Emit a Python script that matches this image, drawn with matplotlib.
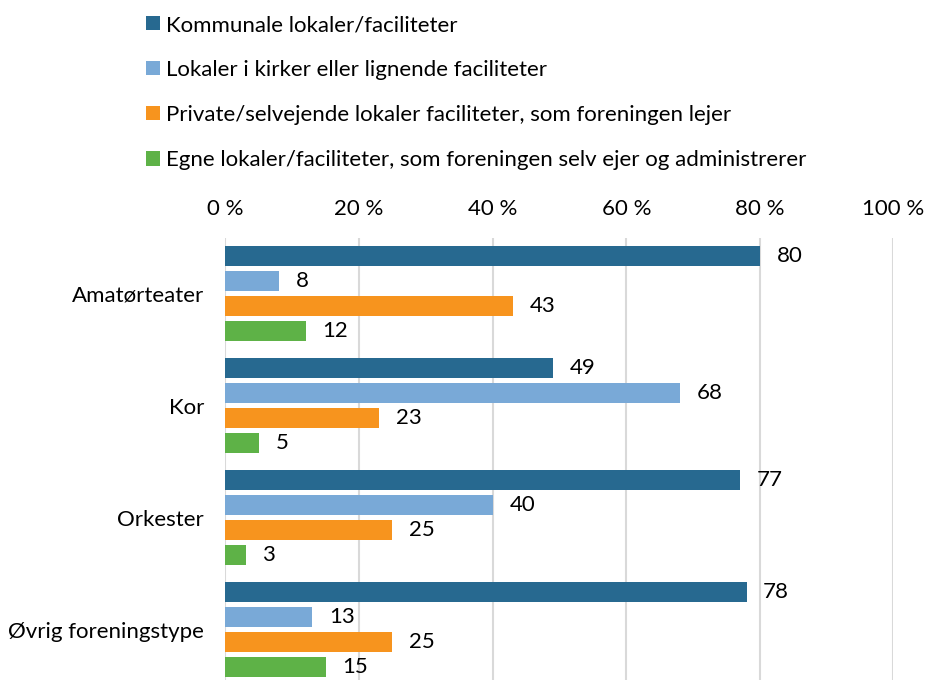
import numpy as np
import matplotlib
matplotlib.use("Agg")
from matplotlib import pyplot as plt
from matplotlib.patches import Patch

plt.rcParams['font.family'] = ['Lato', 'DejaVu Sans']

categories = ["Amatørteater", "Kor", "Orkester", "Øvrig foreningstype"]
series = [
    "Kommunale lokaler/faciliteter",
    "Lokaler i kirker eller lignende faciliteter",
    "Private/selvejende lokaler faciliteter, som foreningen lejer",
    "Egne lokaler/faciliteter, som foreningen selv ejer og administrerer",
]
kommunale = [80, 49, 77, 78]
kirker = [8, 68, 40, 13]
private = [43, 23, 25, 25]
egne = [12, 5, 3, 15]
colors = ["#276990", "#79A9D7", "#F7941E", "#5EB247"]

values = [kommunale, kirker, private, egne]
fs = 16

fig = plt.figure(figsize=(9.26, 6.8), dpi=100)
ax = fig.add_axes([0.2435, -0.0088, 0.7214, 0.6588])

# each category takes one unit; bars are 20/112 tall with a 25/112 pitch
band = 112.0
bar_h = 20 / band
base = np.arange(len(categories))
for j, (vals, col) in enumerate(zip(values, colors)):
    ys = base + (8 + 10 + 25 * j) / band
    bars = ax.barh(ys, vals, height=bar_h, color=col, zorder=3)
    for y, v in zip(ys, vals):
        ax.annotate(str(v), (v, y), xytext=(12, 0), textcoords="offset points",
                    va="center", ha="left", fontsize=fs, color="#000000")

ax.set_xlim(0, 100)
ax.set_ylim(len(categories), 0)
ax.set_xticks(np.arange(0, 101, 20))
ax.set_xticklabels([f"{t} %" for t in range(0, 101, 20)])
ax.xaxis.tick_top()
ax.tick_params(axis="x", length=0, pad=14, labelsize=fs)
ax.set_yticks(base + 0.5)
ax.set_yticklabels(categories)
ax.tick_params(axis="y", length=0, pad=15.5, labelsize=fs)
ax.grid(axis="x", color="#D9D9D9", linewidth=1.5, zorder=0)
for s in ax.spines.values():
    s.set_visible(False)

handles = [Patch(facecolor=c, edgecolor="none") for c in colors]
fig.legend(handles, series, loc="upper left", bbox_to_anchor=(0.1485, 0.991),
           frameon=False, fontsize=fs, handlelength=0.6, handleheight=0.6,
           handletextpad=0.3, labelspacing=1.13, borderaxespad=0)

fig.savefig("out.png", dpi=100)
